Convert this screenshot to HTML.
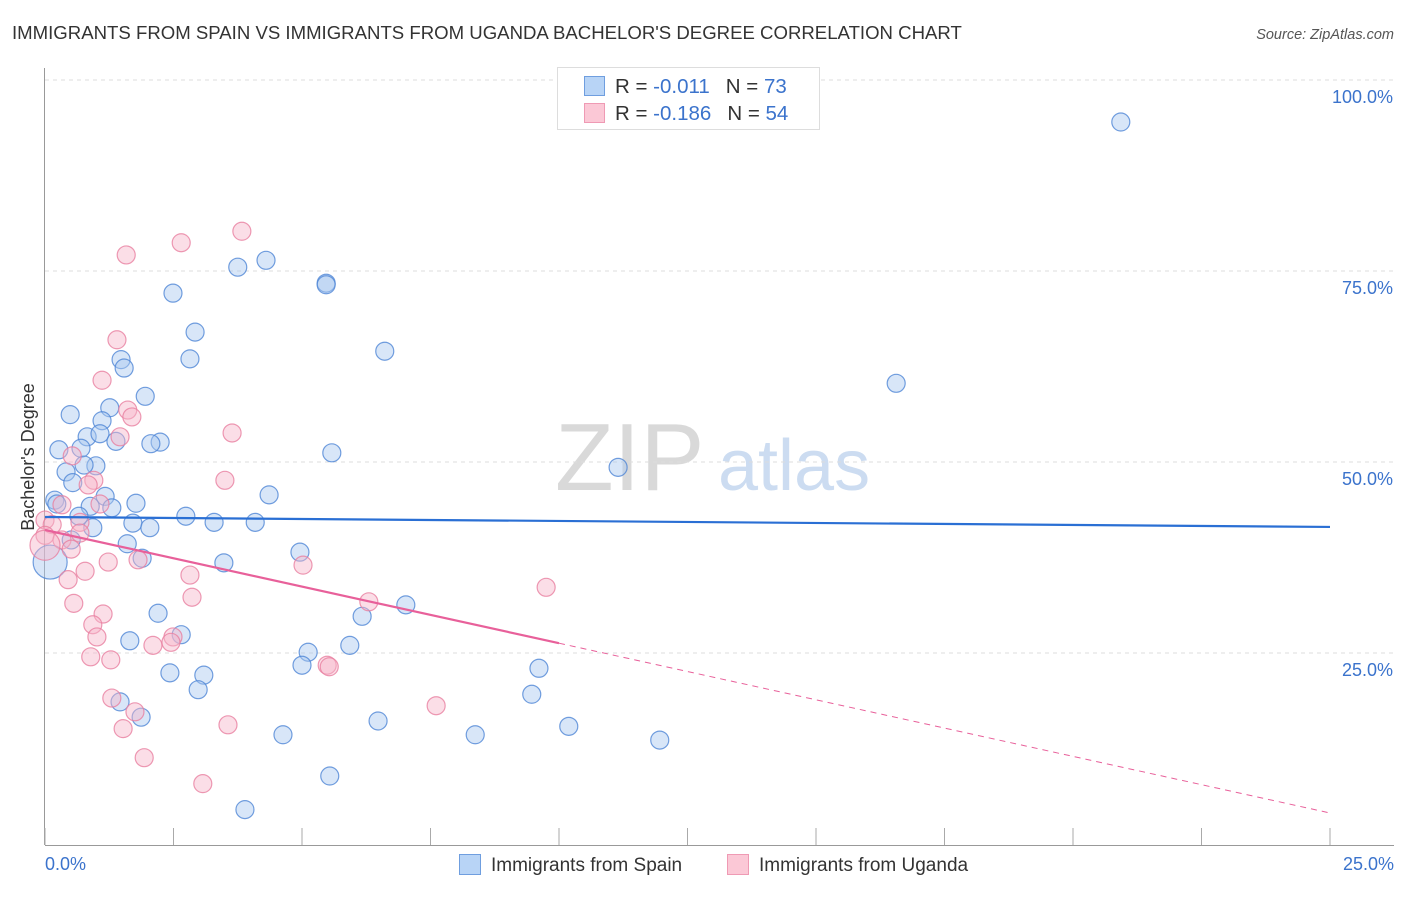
<!DOCTYPE html>
<html><head><meta charset="utf-8"><style>
body{margin:0;background:#fff;font-family:"Liberation Sans",sans-serif}
svg text{font-family:"Liberation Sans",sans-serif}
</style></head><body>
<svg id="chart" width="1406" height="892" xmlns="http://www.w3.org/2000/svg">
<text x="12" y="39" font-size="18.6" fill="#333">IMMIGRANTS FROM SPAIN VS IMMIGRANTS FROM UGANDA BACHELOR'S DEGREE CORRELATION CHART</text>
<text x="1394" y="39" font-size="14.5" fill="#555" font-style="italic" text-anchor="end">Source: ZipAtlas.com</text>
<g>
<text x="555" y="490" font-size="96" fill="#d0d0d0" font-family="Liberation Serif,serif" opacity="0.8">ZIP</text>
<text x="718" y="490" font-size="72" fill="#c0d4ee" opacity="0.8">atlas</text>
</g>
<g id="grid"></g>
<g id="axes"></g>
<g id="marks"></g>
<g id="trend"></g>
<g>
<rect x="557.5" y="67.5" width="262" height="62" fill="#fff" stroke="#ddd"/>
<rect x="584.5" y="76.5" width="20" height="19" fill="#b8d4f6" stroke="#6f9edf"/>
<rect x="584.5" y="103.5" width="20" height="19" fill="#fbc8d6" stroke="#ef9ab4"/>
<text x="615" y="93" font-size="20.5" fill="#333">R = <tspan fill="#3b73cc">-0.011</tspan><tspan dx="16">N = </tspan><tspan fill="#3b73cc">73</tspan></text>
<text x="615" y="120" font-size="20.5" fill="#333">R = <tspan fill="#3b73cc">-0.186</tspan><tspan dx="16">N = </tspan><tspan fill="#3b73cc">54</tspan></text>
</g>
<g>
<rect x="459.5" y="854.5" width="21" height="20" fill="#b8d4f6" stroke="#6f9edf"/>
<text x="491" y="871" font-size="19" fill="#333">Immigrants from Spain</text>
<rect x="727.5" y="854.5" width="21" height="20" fill="#fbc8d6" stroke="#ef9ab4"/>
<text x="759" y="871" font-size="19" fill="#333">Immigrants from Uganda</text>
</g>
<text transform="translate(34,457) rotate(-90)" font-size="18" fill="#333" text-anchor="middle">Bachelor's Degree</text>
</svg>
<script>
const yTicks=[25,50,75,100];
const yTickLabels=["25.0%","50.0%","75.0%","100.0%"];
const xTickLabels=["0.0%","25.0%"];
const spainX=[20.93,4.30,3.75,5.47,5.47,2.49,2.92,6.61,1.48,2.82,1.54,16.56,1.95,0.49,1.26,1.11,0.82,1.07,1.38,2.24,2.06,0.27,0.70,11.15,5.58,0.41,0.99,0.76,0.54,4.36,0.19,0.23,1.17,1.77,1.30,0.88,0.66,2.74,3.29,4.09,1.71,2.04,0.93,0.51,1.60,4.96,1.89,3.48,0.10,7.02,2.20,6.17,2.65,1.65,5.93,5.12,5.00,9.61,2.43,3.09,2.98,9.47,1.46,1.87,6.48,10.19,4.63,8.37,11.96,5.54,3.89];
const spainY=[94.5,76.4,75.5,73.4,73.2,72.1,67.0,64.5,63.4,63.5,62.3,60.3,58.6,56.2,57.1,55.4,53.3,53.7,52.7,52.6,52.4,51.6,51.8,49.3,51.2,48.7,49.5,49.6,47.3,45.7,45.0,44.5,45.5,44.6,44.0,44.2,42.9,42.9,42.1,42.1,42.0,41.4,41.4,39.8,39.3,38.2,37.4,36.8,36.9,31.3,30.2,29.8,27.4,26.6,26.0,25.1,23.4,23.0,22.4,22.1,20.2,19.6,18.6,16.6,16.1,15.4,14.3,14.3,13.6,8.9,4.5];
const ugandaX=[3.83,2.65,1.58,1.40,1.11,1.61,1.69,3.64,1.46,0.53,3.50,0.95,0.84,0.33,1.07,0.0,0.14,0.68,0.0,0.33,0.68,0.51,0.0,1.23,1.81,5.02,0.78,2.82,0.45,9.75,2.86,6.30,0.56,1.13,0.93,1.01,2.49,2.45,2.10,0.89,1.28,5.49,5.53,1.30,1.75,7.61,1.52,3.56,1.93,3.07];
const ugandaY=[80.2,78.7,77.1,66.0,60.7,56.8,55.9,53.8,53.3,50.8,47.6,47.6,47.0,44.4,44.5,42.4,41.8,42.1,40.4,39.8,40.7,38.6,39.1,36.9,37.2,36.5,35.7,35.2,34.6,33.6,32.3,31.7,31.5,30.1,28.7,27.1,27.1,26.4,26.0,24.5,24.1,23.4,23.2,19.1,17.3,18.1,15.1,15.6,11.3,7.9];
const spainBig=[48];
const ugandaBig=[22];
const spainTrend=[42.8,41.5];
const ugandaTrend=[41.1,4.06];
const ugandaSolidEnd=10;
const NS="http://www.w3.org/2000/svg";
const X=v=>45+v*51.4, Y=v=>844-v*7.64;
function mk(t,a,p){const e=document.createElementNS(NS,t);for(const k in a)e.setAttribute(k,a[k]);p.appendChild(e);return e;}
const grid=document.getElementById('grid'),axes=document.getElementById('axes'),marks=document.getElementById('marks'),trend=document.getElementById('trend');
yTicks.forEach((t,i)=>{
 const l=mk('line',{x1:45,x2:1394,y1:Y(t),y2:Y(t),stroke:'#ddd','stroke-dasharray':'4,4'},grid);
 
 
 const tx=mk('text',{x:1393,y:Y(t)+23,'font-size':18,fill:'#3b73cc','text-anchor':'end'},axes);
 tx.textContent=yTickLabels[i];
 
 
});
const ax=mk('line',{x1:44.5,x2:44.5,y1:68,y2:845,stroke:'#999'},axes);


const bx=mk('line',{x1:45,x2:1394,y1:845.5,y2:845.5,stroke:'#999'},axes);


for(let i=0;i<=10;i++){const v=i*2.5;const t=mk('line',{x1:X(v),x2:X(v),y1:828,y2:845,stroke:'#aaa'},axes);
 
 }
[[0,'start',45],[25,'end',1394]].forEach((d,i)=>{const t=mk('text',{x:d[2],y:870,'font-size':18,fill:'#3b73cc','text-anchor':d[1]},axes);t.textContent=xTickLabels[i];
 
 });
function pts(xs,ys,big,bigR,fill,stroke,name){xs.forEach((x,i)=>{const r=big.includes(i)?bigR:9;
 const c=mk('circle',{cx:X(x),cy:Y(ys[i]),r:r,fill:fill,'fill-opacity':0.45,stroke:stroke,'stroke-opacity':0.8,'stroke-width':1.2},marks);
 
 });}
pts(spainX,spainY,spainBig,17,'#a8c8f0','#4f86d6','spain-point');
pts(ugandaX,ugandaY,ugandaBig,15,'#f6b6c9','#e87fa0','uganda-point');
const bl=mk('line',{x1:X(0),y1:Y(spainTrend[0]),x2:X(25),y2:Y(spainTrend[1]),stroke:'#2a6fd4','stroke-width':2.2},trend);


const uy=v=>ugandaTrend[0]+(ugandaTrend[1]-ugandaTrend[0])*v/25;
const pl=mk('line',{x1:X(0),y1:Y(uy(0)),x2:X(ugandaSolidEnd),y2:Y(uy(ugandaSolidEnd)),stroke:'#e8609a','stroke-width':2.2},trend);


const pd=mk('line',{x1:X(ugandaSolidEnd),y1:Y(uy(ugandaSolidEnd)),x2:X(25),y2:Y(uy(25)),stroke:'#e8609a','stroke-width':1,'stroke-dasharray':'6,5'},trend);


</script>
</body></html>
